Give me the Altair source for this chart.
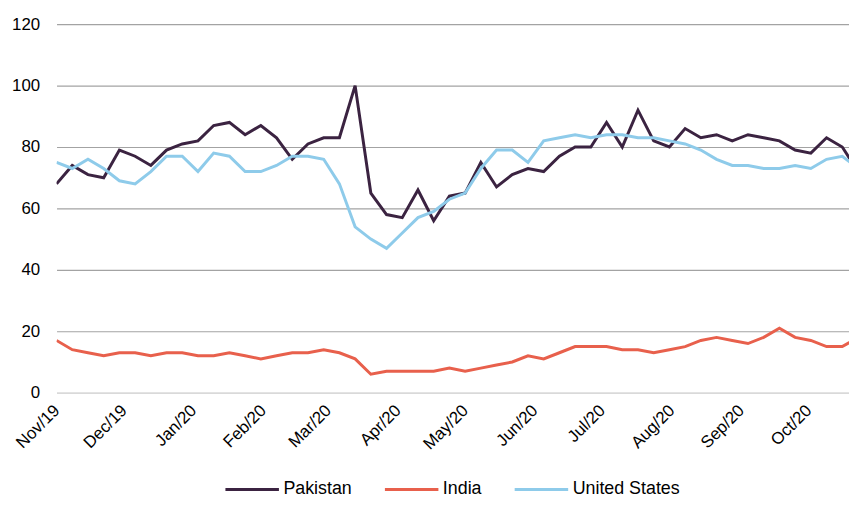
import altair as alt
import pandas as pd

series_names = ["Pakistan", "India", "United States"]
series_colors = ["#3b2341", "#e8604c", "#8ecbea"]

pakistan = [68, 74, 71, 70, 79, 77, 74, 79, 81, 82,
            87, 88, 84, 87, 83, 76, 81, 83, 83, 100,
            65, 58, 57, 66, 56, 64, 65, 75, 67, 71,
            73, 72, 77, 80, 80, 88, 80, 92, 82, 80,
            86, 83, 84, 82, 84, 83, 82, 79, 78, 83,
            80, 72]
india = [17, 14, 13, 12, 13, 13, 12, 13, 13, 12,
         12, 13, 12, 11, 12, 13, 13, 14, 13, 11,
         6, 7, 7, 7, 7, 8, 7, 8, 9, 10,
         12, 11, 13, 15, 15, 15, 14, 14, 13, 14,
         15, 17, 18, 17, 16, 18, 21, 18, 17, 15,
         15, 18]
united_states = [75, 73, 76, 73, 69, 68, 72, 77, 77, 72,
                 78, 77, 72, 72, 74, 77, 77, 76, 68, 54,
                 50, 47, 52, 57, 59, 63, 65, 73, 79, 79,
                 75, 82, 83, 84, 83, 84, 84, 83, 83, 82,
                 81, 79, 76, 74, 74, 73, 73, 74, 73, 76,
                 77, 73]

weeks = pd.date_range("2019-11-01", periods=len(pakistan), freq="7D")
month_ticks = ["2019-11-01", "2019-12-01", "2020-01-01", "2020-02-01", "2020-03-01",
               "2020-04-01", "2020-05-01", "2020-06-01", "2020-07-01", "2020-08-01",
               "2020-09-01", "2020-10-01"]
y_ticks = [0, 20, 40, 60, 80, 100, 120]

rows = []
for name, vals in zip(series_names, [pakistan, india, united_states]):
    for d, v in zip(weeks, vals):
        rows.append({"week": d.strftime("%Y-%m-%d"), "series": name, "value": v})
df = pd.DataFrame(rows)

FONT = "Liberation Sans"

chart = alt.Chart(df).mark_line(strokeWidth=3, clip=True).encode(
    x=alt.X("week:T",
            scale=alt.Scale(domain=["2019-11-01", "2020-10-19"]),
            axis=alt.Axis(title=None, values=month_ticks, format="%b/%y",
                          labelAngle=315, labelAlign="right", labelBaseline="middle",
                          labelPadding=15, ticks=False, grid=False,
                          domainColor="#d9d9d9", domainWidth=1.5,
                          labelFont=FONT, labelFontSize=17, labelColor="#000000")),
    y=alt.Y("value:Q",
            scale=alt.Scale(domain=[0, 120], nice=False),
            axis=alt.Axis(title=None, values=y_ticks, ticks=False, domain=False,
                          labelPadding=17, labelFont=FONT, labelFontSize=17,
                          labelColor="#000000",
                          gridColor=alt.condition("datum.value === 0",
                                                  alt.value("#d9d9d9"),
                                                  alt.value("#a3a3a3")),
                          gridWidth=1.2)),
    color=alt.Color("series:N",
                    scale=alt.Scale(domain=series_names, range=series_colors),
                    sort=series_names,
                    legend=alt.Legend(title=None, orient="none", direction="horizontal",
                                      legendX=169, legendY=441,
                                      symbolType="stroke", symbolSize=2916,
                                      symbolStrokeWidth=3, labelOffset=3,
                                      columnPadding=26, padding=0, offset=0,
                                      labelFont=FONT, labelFontSize=18,
                                      labelColor="#000000")),
).properties(
    width=800, height=372,
    autosize=alt.AutoSizeParams(type="none"),
    padding={"left": 49, "top": 14, "right": 0, "bottom": 104},
).configure_view(stroke=None)

chart.save("out.html", embed_options={"renderer": "svg", "actions": False})
